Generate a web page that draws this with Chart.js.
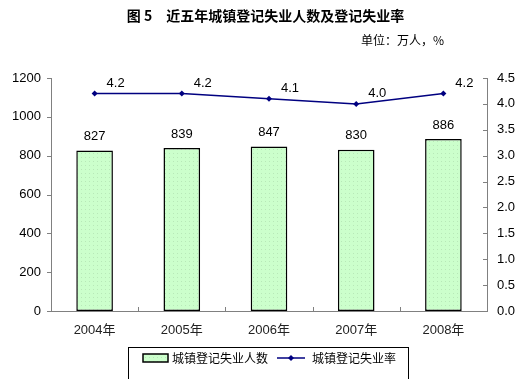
<!DOCTYPE html>
<html><head><meta charset="utf-8">
<script src="https://cdn.jsdelivr.net/npm/chart.js@4/dist/chart.umd.min.js"></script>
<style>
html,body{margin:0;padding:0;background:#fff;}
#wrap{position:relative;width:531px;height:379px;overflow:hidden;}
#title{position:absolute;left:0;top:5px;width:531px;text-align:center;font:bold 14px "Noto Sans CJK SC",sans-serif;color:#000;white-space:pre;padding-left:0px;}
#sub{position:absolute;left:361px;top:31px;font:12px "Noto Sans CJK SC",sans-serif;color:#000;white-space:pre;}
canvas{position:absolute;left:0;top:0;}
</style></head>
<body><div id="wrap">
<canvas id="c" width="531" height="379"></canvas>
<div id="title">图 5　近五年城镇登记失业人数及登记失业率</div>
<div id="sub">单位：万人，%</div>
</div>
<script>
const categories = ['2004年','2005年','2006年','2007年','2008年'];
const unemployedPersons = [827, 839, 847, 830, 886];
const unemploymentRate = [4.2, 4.2, 4.1, 4.0, 4.2];
const leftTicks = [0, 200, 400, 600, 800, 1000, 1200];
const rightTicks = [0, 0.5, 1.0, 1.5, 2.0, 2.5, 3.0, 3.5, 4.0, 4.5];
const seriesNames = ['城镇登记失业人数', '城镇登记失业率'];

// dotted light green pattern
const pc = document.createElement('canvas'); pc.width = 4; pc.height = 4;
const px = pc.getContext('2d');
px.fillStyle = '#ccffcc'; px.fillRect(0,0,4,4);
px.fillStyle = '#b8e8b8'; px.fillRect(1,1,1,1);
const ctx0 = document.getElementById('c').getContext('2d');
const greenPat = ctx0.createPattern(pc, 'repeat');

const NAVY = '#000080';
const AXIS = '#808080';

const custom = {
  id: 'custom',
  afterDatasetsDraw(chart) {
    const ctx = chart.ctx;
    const ca = chart.chartArea;
    const x = chart.scales.x, y = chart.scales.y, y1 = chart.scales.y1;
    ctx.save();
    // axis ticks
    ctx.strokeStyle = AXIS; ctx.lineWidth = 1;
    ctx.beginPath();
    leftTicks.forEach(v => { const yy = Math.round(y.getPixelForValue(v)) + 0.5; ctx.moveTo(ca.left - 4, yy); ctx.lineTo(ca.left, yy); });
    rightTicks.forEach(v => { const yy = Math.round(y1.getPixelForValue(v)) + 0.5; ctx.moveTo(ca.right - 4, yy); ctx.lineTo(ca.right, yy); });
    const step = (ca.right - ca.left) / categories.length;
    for (let i = 1; i < categories.length; i++) { const xx = Math.round(ca.left + i * step) + 0.5; ctx.moveTo(xx, ca.bottom); ctx.lineTo(xx, ca.bottom - 4); }
    ctx.stroke();
    // data labels
    ctx.fillStyle = '#000';
    ctx.font = '13px "Liberation Sans", Arial, sans-serif';
    ctx.textAlign = 'center'; ctx.textBaseline = 'middle';
    chart.getDatasetMeta(0).data.forEach((b, i) => { ctx.fillText(String(unemployedPersons[i]), b.x, b.y - 14); });
    chart.getDatasetMeta(1).data.forEach((p, i) => { ctx.fillText(unemploymentRate[i].toFixed(1), p.x + 21, p.y - 10); });
    ctx.restore();
  },
  afterDraw(chart) {
    const ctx = chart.ctx;
    ctx.save();
    // legend box
    const L = 128.5, T = 347.5, R = 408.5, B = 390;
    ctx.strokeStyle = '#000'; ctx.lineWidth = 1;
    ctx.strokeRect(L, T, R - L, B - T);
    const cy = 358;
    // bar swatch
    ctx.fillStyle = greenPat; ctx.fillRect(143, cy - 4, 25, 8);
    ctx.strokeStyle = '#000'; ctx.lineWidth = 1.5; ctx.strokeRect(143, cy - 4, 25, 8);
    ctx.fillStyle = '#000';
    ctx.font = '12px "Noto Sans CJK SC", sans-serif';
    ctx.textAlign = 'left'; ctx.textBaseline = 'middle';
    ctx.fillText(chart.data.datasets[0].label, 172, cy);
    // line swatch
    ctx.strokeStyle = NAVY; ctx.lineWidth = 1.5;
    ctx.beginPath(); ctx.moveTo(277, cy); ctx.lineTo(305, cy); ctx.stroke();
    ctx.fillStyle = NAVY; ctx.beginPath();
    ctx.moveTo(291, cy - 3); ctx.lineTo(294, cy); ctx.lineTo(291, cy + 3); ctx.lineTo(288, cy); ctx.closePath(); ctx.fill();
    ctx.fillStyle = '#000';
    ctx.fillText(chart.data.datasets[1].label, 312, cy);
    ctx.restore();
  }
};

new Chart(document.getElementById('c'), {
  data: {
    labels: categories,
    datasets: [
      { type: 'bar', label: seriesNames[0], data: unemployedPersons, yAxisID: 'y',
        backgroundColor: greenPat, borderColor: '#000', borderWidth: 1.5, borderSkipped: false,
        barPercentage: 0.42, categoryPercentage: 1.0, order: 2 },
      { type: 'line', label: seriesNames[1], data: unemploymentRate, yAxisID: 'y1',
        borderColor: NAVY, backgroundColor: NAVY, borderWidth: 1.5, pointStyle: 'rectRot',
        pointRadius: 3, pointBackgroundColor: NAVY, pointBorderWidth: 0, tension: 0, order: 1 }
    ]
  },
  options: {
    responsive: false, animation: false, devicePixelRatio: 1,
    layout: { padding: { top: 78, bottom: 42, left: 0, right: 0 } },
    plugins: { legend: { display: false }, tooltip: { enabled: false }, title: { display: false } },
    scales: {
      x: {
        grid: { display: false, drawTicks: false },
        border: { color: AXIS, width: 1 },
        ticks: { color: '#222', padding: 12, font: { size: 13, family: '"Liberation Sans", "Noto Sans CJK SC", sans-serif' } },
        afterFit(s) { s.height = 26; }
      },
      y: {
        position: 'left', min: 0, max: 1200,
        afterBuildTicks(s) { s.ticks = leftTicks.map(v => ({ value: v })); },
        grid: { display: false, drawTicks: false },
        border: { color: AXIS, width: 1 },
        ticks: { color: '#000', padding: 10, callback: v => String(v), font: { size: 13, family: '"Liberation Sans", Arial, sans-serif' } },
        afterFit(s) { s.width = 51; }
      },
      y1: {
        position: 'right', min: 0, max: 4.5,
        afterBuildTicks(s) { s.ticks = rightTicks.map(v => ({ value: v })); },
        grid: { display: false, drawTicks: false },
        border: { color: AXIS, width: 1 },
        ticks: { color: '#000', padding: 10, callback: v => Number(v).toFixed(1), font: { size: 13, family: '"Liberation Sans", Arial, sans-serif' } },
        afterFit(s) { s.width = 44; }
      }
    }
  },
  plugins: [custom]
});
</script>
</body></html>
